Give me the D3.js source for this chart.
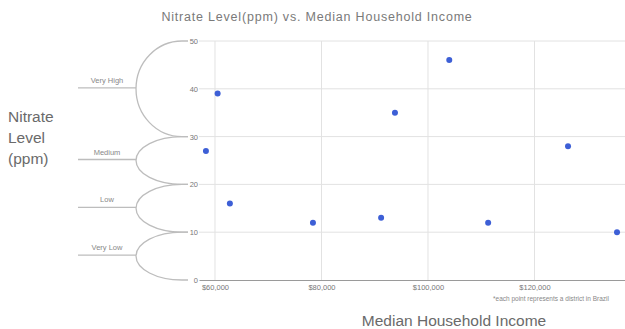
<!DOCTYPE html>
<html><head><meta charset="utf-8">
<script src="https://cdn.jsdelivr.net/npm/d3@7"></script>
<style>body{margin:0;background:#fff;} text{font-family:"Liberation Sans",Arial,sans-serif;}</style>
</head><body>
<svg id="c" width="625" height="329"></svg>
<script>
const incomes = [60500, 58300, 62800, 78400, 91200, 93800, 104000, 111300, 126300, 135500];
const nitrates = [39, 27, 16, 12, 13, 35, 46, 12, 28, 10];
const xTicks = [60000, 80000, 100000, 120000];
const xTickLabels = ["$60,000", "$80,000", "$100,000", "$120,000"];
const yTicks = [0, 10, 20, 30, 40, 50];
const levelNames = ["Very High", "Medium", "Low", "Very Low"];
const levelRanges = [[30, 50], [20, 30], [10, 20], [0, 10]];

const svg = d3.select("#c");
const x = d3.scaleLinear().domain([57000, 137000]).range([199, 625]);
const y = d3.scaleLinear().domain([0, 50]).range([280, 41]);

// grid
svg.append("g").selectAll("line").data(xTicks).join("line")
  .attr("x1", d => x(d)).attr("x2", d => x(d)).attr("y1", y(50)).attr("y2", y(0))
  .attr("stroke", "#e2e2e2").attr("stroke-width", 1);
svg.append("g").selectAll("line").data(yTicks.filter(d => d > 0)).join("line")
  .attr("x1", 199).attr("x2", 625).attr("y1", d => y(d)).attr("y2", d => y(d))
  .attr("stroke", "#e2e2e2").attr("stroke-width", 1);

// x axis
const xAxis = d3.axisBottom(x).tickValues(xTicks).tickFormat((d, i) => xTickLabels[i]).tickSize(0).tickPadding(5);
const gx = svg.append("g").attr("transform", `translate(0,${y(0)})`).call(xAxis);
gx.select(".domain").attr("stroke", "#9a9a9a");
gx.selectAll("text").attr("fill", "#777").attr("font-size", 7.5);

// y axis labels
const yAxis = d3.axisLeft(y).tickValues(yTicks).tickSize(0).tickPadding(0);
const gy = svg.append("g").attr("transform", "translate(198,0)").call(yAxis);
gy.select(".domain").remove();
gy.selectAll("text").attr("fill", "#777").attr("font-size", 7.5);

// brackets
const bg = svg.append("g");
levelRanges.forEach((r, i) => {
  const yt = y(r[1]), yb = y(r[0]), ym = (yt + yb) / 2;
  const rx = 46, ry = (yb - yt) / 2;
  const ex = 136 + rx;
  bg.append("path")
    .attr("d", `M188,${yt} L${ex},${yt} A${rx},${ry} 0 0 0 ${ex},${yb} L188,${yb}`)
    .attr("fill", "none").attr("stroke", "#bdbdbd").attr("stroke-width", 1.3);
  bg.append("line").attr("x1", 78).attr("x2", 136).attr("y1", ym - 1).attr("y2", ym - 1)
    .attr("stroke", "#bdbdbd").attr("stroke-width", 1.3);
  bg.append("text").attr("x", 107).attr("y", ym - 6).attr("text-anchor", "middle")
    .attr("font-size", 7.5).attr("fill", "#888").text(levelNames[i]);
});

// points
svg.append("g").selectAll("circle").data(incomes).join("circle")
  .attr("cx", d => x(d)).attr("cy", (d, i) => y(nitrates[i])).attr("r", 3)
  .attr("fill", "#3d5fd6");

// titles
svg.append("text").attr("x", 317).attr("y", 21).attr("text-anchor", "middle")
  .attr("font-size", 12.5).attr("fill", "#7a7a7a").attr("letter-spacing", 0.8)
  .text("Nitrate Level(ppm) vs. Median Household Income");
const yt = svg.append("text").attr("font-size", 15.5).attr("fill", "#6a6a6a");
["Nitrate", "Level", "(ppm)"].forEach((s, i) => {
  yt.append("tspan").attr("x", 8).attr("y", 122 + i * 21).text(s);
});
svg.append("text").attr("x", 454).attr("y", 326).attr("text-anchor", "middle")
  .attr("font-size", 15.5).attr("fill", "#6a6a6a").text("Median Household Income");
svg.append("text").attr("x", 493).attr("y", 301).attr("font-size", 6.5).attr("fill", "#888")
  .text("*each point represents a district in Brazil");
</script>
</body></html>
